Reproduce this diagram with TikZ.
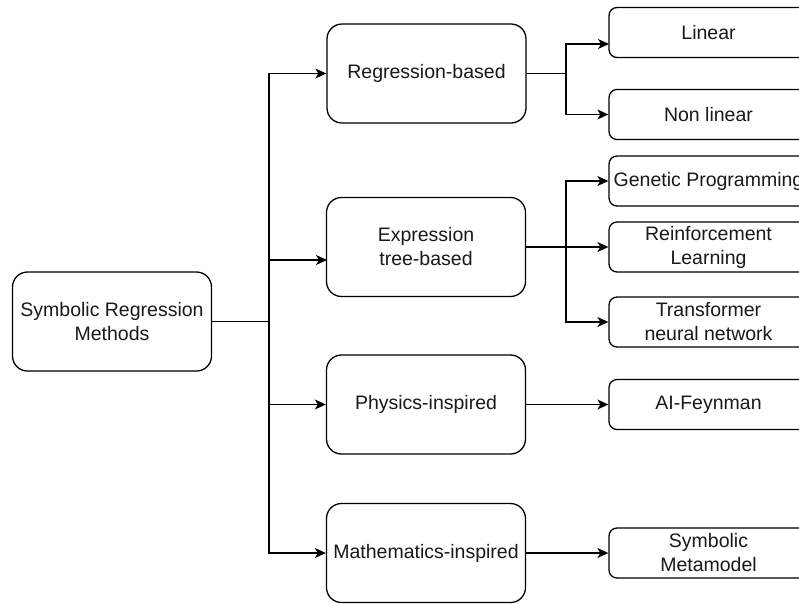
\documentclass[tikz,border=0pt]{standalone}
\usepackage{fontspec}
\setmainfont{Liberation Sans}
\usetikzlibrary{arrows.meta}
\begin{document}
\begin{tikzpicture}[x=1pt,y=-1pt,
  font=\fontsize{19.5}{24}\selectfont,
  box/.style={draw=black, line width=1.3pt, fill=white, align=center,
    text=black!90, inner sep=0pt},
  bigbox/.style={box, minimum width=199pt, minimum height=99pt, rounded corners=15pt},
  leafbox/.style={box, minimum width=199pt, minimum height=50pt, rounded corners=8pt},
  link/.style={draw=black, line width=1.3pt},
  arr/.style={link, -{Stealth[length=11pt,width=10pt,inset=3pt]}}]

\useasboundingbox (0,0) rectangle (799,603);
\clip (0,0) rectangle (799,603);

% root
\node[bigbox] (root) at (112,321.5) {Symbolic Regression\\Methods};

% method families
\node[bigbox] (reg)  at (426.5,73.5)  {Regression-based};
\node[bigbox] (expr) at (426,247)     {Expression\\tree-based};
\node[bigbox] (phy)  at (426,404.5)   {Physics-inspired};
\node[bigbox] (math) at (426,553)     {Mathematics-inspired};

% concrete methods
\node[leafbox] (lin) at (708.5,32.5)  {Linear};
\node[leafbox] (nlin) at (708.5,114.5) {Non linear};
\node[leafbox] (gp)  at (708.5,181)   {Genetic Programming};
\node[leafbox] (rl)  at (708.5,247)   {Reinforcement\\Learning};
\node[leafbox] (tnn) at (708.5,322)   {Transformer\\neural network};
\node[leafbox] (aif) at (708.5,404.5) {AI-Feynman};
\node[leafbox] (sm)  at (708.5,553)   {Symbolic\\Metamodel};

% junctions
\coordinate (trunk) at (269,321.5);
\coordinate (eIn) at (327,260);
\coordinate (rj) at (566,73.5);
\coordinate (linIn) at (609,44);
\coordinate (ej) at (566,247);

% trunk from the root
\draw[link] (root.east) -- (trunk);
\draw[arr] (trunk) |- (reg.west);
\draw[arr] (trunk) |- (eIn);
\draw[arr] (trunk) |- (phy.west);
\draw[arr] (trunk) |- (math.west);

% regression-based branch
\draw[link] (reg.east) -- (rj);
\draw[arr] (rj) |- (linIn);
\draw[arr] (rj) |- (nlin.west);

% expression tree-based branch
\draw[link] (expr.east) -- (ej);
\draw[arr] (ej) |- (gp.west);
\draw[arr] (ej) -- (rl.west);
\draw[arr] (ej) |- (tnn.west);

% single-child branches
\draw[arr] (phy.east) -- (aif.west);
\draw[arr] (math.east) -- (sm.west);
\end{tikzpicture}
\end{document}
